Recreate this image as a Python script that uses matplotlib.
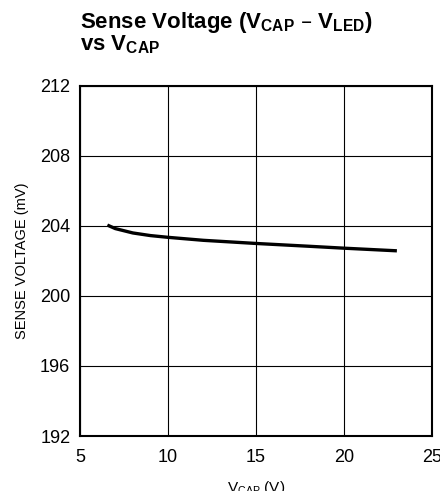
import matplotlib
matplotlib.use("Agg")
import matplotlib.pyplot as plt
from matplotlib import font_manager

names = {f.name for f in font_manager.fontManager.ttflist}
fam = 'Liberation Sans Narrow' if 'Liberation Sans Narrow' in names else 'Liberation Sans'
plt.rcParams['font.family'] = [fam, 'DejaVu Sans']
plt.rcParams['mathtext.default'] = 'regular'

vcap = [6.55, 7, 8, 9, 10, 12, 15, 18, 20, 23]
sense_mv = [204.05, 203.85, 203.6, 203.45, 203.35, 203.18, 203.0, 202.84, 202.73, 202.58]
xticks = [5, 10, 15, 20, 25]
yticks = [192, 196, 200, 204, 208, 212]

fig = plt.figure(figsize=(4.40, 4.91), dpi=100)
ax = fig.add_axes([0.182, 0.112, 0.800, 0.713])
ax.plot(vcap, sense_mv, color='black', lw=2.4, solid_capstyle='butt')
ax.set_xlim(5, 25)
ax.set_ylim(192, 212)
ax.set_xticks(xticks)
ax.set_yticks(yticks)
ax.grid(True, color='black', lw=0.8)
ax.tick_params(length=0, labelsize=13)
ax.tick_params(axis='x', pad=9)
ax.tick_params(axis='y', pad=7)
for s in ax.spines.values():
    s.set_linewidth(1.5)
ax.set_ylabel('SENSE VOLTAGE (mV)', fontsize=10.5, labelpad=8)
ax.set_xlabel('V$_{CAP}$ (V)', fontsize=11, labelpad=10)

fig.text(0.182, 0.943, 'Sense Voltage (V$_{CAP}$ – V$_{LED}$)', fontsize=16, fontweight='bold', ha='left', va='baseline')
fig.text(0.182, 0.898, 'vs V$_{CAP}$', fontsize=16, fontweight='bold', ha='left', va='baseline')

fig.savefig('out.png', dpi=100)
